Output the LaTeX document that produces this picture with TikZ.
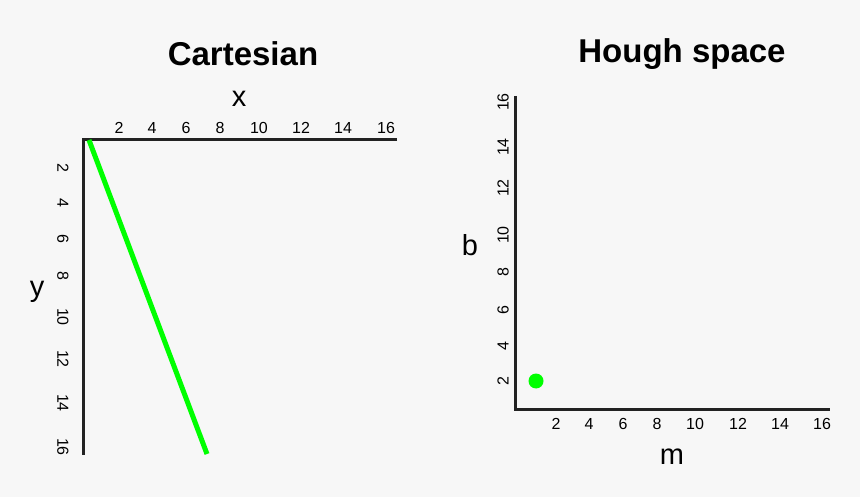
\documentclass[tikz,border=0pt]{standalone}
\usepackage{fontspec}
\setmainfont{Liberation Sans}
\definecolor{bggray}{HTML}{F7F7F7}
\definecolor{axisgray}{HTML}{222222}
\definecolor{linegreen}{HTML}{00FF00}
\tikzset{
  title/.style={font=\bfseries\fontsize{33}{36}\selectfont},
  axlabel/.style={font=\fontsize{29}{31}\selectfont},
  tick/.style={font=\fontsize{16}{17}\selectfont, inner sep=0pt},
  axis/.style={draw=axisgray, line width=3pt},
}
\begin{document}
\begin{tikzpicture}[x=1pt,y=-1pt]
\fill[bggray] (0,0) rectangle (860,497);
\useasboundingbox (0,0) rectangle (860,497);
% titles
\node[title] (tc) at (243,54) {Cartesian};
\node[title] (th) at (682,54) {Hough space};
% cartesian axes
\coordinate (o1) at (83,140);
\coordinate (xe) at (397,140);
\coordinate (ye) at (83,455);
\draw[axis] (xe) -- (o1) -- (ye);
\node[axlabel] (lx) at (239,99) {x};
\node[axlabel] (ly) at (37,292) {y};
\node[tick] (x2) at (119,128) {2};
\node[tick] (x4) at (152,128) {4};
\node[tick] (x6) at (186,128) {6};
\node[tick] (x8) at (220,128) {8};
\node[tick] (x10) at (259,128) {10};
\node[tick] (x12) at (301,128) {12};
\node[tick] (x14) at (343,128) {14};
\node[tick] (x16) at (386,128) {16};
\node[tick,rotate=-90] (y2) at (63,168) {2};
\node[tick,rotate=-90] (y4) at (63,203) {4};
\node[tick,rotate=-90] (y6) at (63,239) {6};
\node[tick,rotate=-90] (y8) at (63,276) {8};
\node[tick,rotate=-90] (y10) at (63,317) {10};
\node[tick,rotate=-90] (y12) at (63,359) {12};
\node[tick,rotate=-90] (y14) at (63,403) {14};
\node[tick,rotate=-90] (y16) at (63,447) {16};
% the line
\coordinate (p1) at (89,140);
\coordinate (p2) at (207,454);
\draw[linegreen, line width=5pt] (p1) -- (p2);
% hough axes
\coordinate (o2) at (515,409);
\coordinate (be) at (515,96);
\coordinate (me) at (830,409);
\draw[axis] (be) -- (o2) -- (me);
\node[axlabel] (lb) at (470,245) {b};
\node[axlabel] (lm) at (672,457) {m};
\node[tick] (m2) at (556,424) {2};
\node[tick] (m4) at (589,424) {4};
\node[tick] (m6) at (623,424) {6};
\node[tick] (m8) at (657,424) {8};
\node[tick] (m10) at (695,424) {10};
\node[tick] (m12) at (738,424) {12};
\node[tick] (m14) at (780,424) {14};
\node[tick] (m16) at (822,424) {16};
\node[tick,rotate=90] (b2) at (503,381) {2};
\node[tick,rotate=90] (b4) at (503,346) {4};
\node[tick,rotate=90] (b6) at (503,310) {6};
\node[tick,rotate=90] (b8) at (503,272) {8};
\node[tick,rotate=90] (b10) at (503,235) {10};
\node[tick,rotate=90] (b12) at (503,188) {12};
\node[tick,rotate=90] (b14) at (503,147) {14};
\node[tick,rotate=90] (b16) at (503,102) {16};
% the point
\node[circle, fill=linegreen, minimum size=15pt, inner sep=0pt] (pt) at (536,381) {};
\end{tikzpicture}
\end{document}
